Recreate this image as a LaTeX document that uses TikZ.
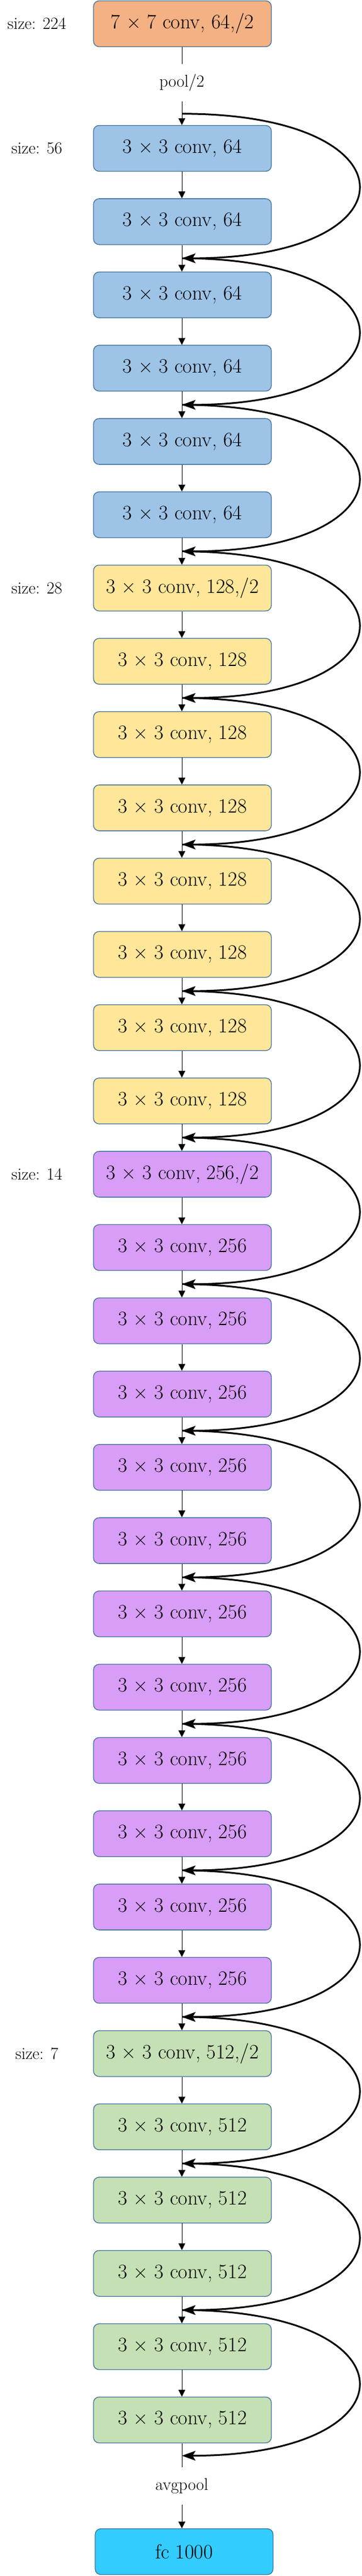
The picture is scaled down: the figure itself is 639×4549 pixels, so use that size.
\documentclass[tikz,border=0pt]{standalone}
\usetikzlibrary{arrows.meta,calc}
\definecolor{cOrange}{HTML}{F4B183}
\definecolor{cBlue}{HTML}{9DC3E6}
\definecolor{cYellow}{HTML}{FFE699}
\definecolor{cPurple}{HTML}{D89DF7}
\definecolor{cGreen}{HTML}{C5E0B4}
\definecolor{cCyan}{HTML}{33CCFF}
\definecolor{cBorder}{HTML}{41719C}
\begin{document}
\begin{tikzpicture}[x=1pt,y=-1pt,
  convbox/.style={draw=cBorder, line width=1.3pt, rounded corners=10pt,
    minimum width=314pt, minimum height=81pt, inner sep=0pt,
    font=\fontsize{36}{42}\selectfont},
  lbl/.style={font=\fontsize{30}{35}\selectfont, inner sep=0pt},
  gapnode/.style={font=\fontsize{30}{35}\selectfont, inner sep=0pt, minimum height=66pt},
  flow/.style={line width=0.8pt, -{Triangle[length=12pt,width=12pt]}},
  plain/.style={line width=0.8pt},
  skip/.style={line width=3pt, -{Stealth[length=24pt,width=17pt,inset=5pt]}}]
\useasboundingbox (0,0) rectangle (639,4549);

% first conv
\node[convbox, fill=cOrange] (conv1) at (322,42) {7 × 7 conv, 64,/2};
\node[lbl] (s224) at (65,42) {size: 224};
\node[gapnode] (pool) at (321,146) {pool/2};

% residual conv boxes
\foreach \k/\col/\txt in {
  0/cBlue/64, 1/cBlue/64, 2/cBlue/64, 3/cBlue/64, 4/cBlue/64, 5/cBlue/64,
  6/cYellow/{128,/2}, 7/cYellow/128, 8/cYellow/128, 9/cYellow/128,
  10/cYellow/128, 11/cYellow/128, 12/cYellow/128, 13/cYellow/128,
  14/cPurple/{256,/2}, 15/cPurple/256, 16/cPurple/256, 17/cPurple/256,
  18/cPurple/256, 19/cPurple/256, 20/cPurple/256, 21/cPurple/256,
  22/cPurple/256, 23/cPurple/256, 24/cPurple/256, 25/cPurple/256,
  26/cGreen/{512,/2}, 27/cGreen/512, 28/cGreen/512, 29/cGreen/512,
  30/cGreen/512, 31/cGreen/512} {
  \node[convbox, fill=\col] (b\k) at (322,{262+129.4*\k}) {3 × 3 conv, \txt};
}

\node[lbl] (s56) at (65,262) {size: 56};
\node[lbl] (s28) at (65,{262+129.4*6}) {size: 28};
\node[lbl] (s14) at (65,{262+129.4*14}) {size: 14};
\node[lbl] (s7)  at (65,{262+129.4*26}) {size: 7};

\node[gapnode] (avg) at (321,4390) {avgpool};
\node[convbox, fill=cCyan] (fc) at (325,4506) {fc 1000};

% main flow
\draw[plain] (conv1.south -| pool) -- (pool.north);
\draw[flow] (pool.south) -- (pool.south |- b0.north);
\foreach \k [evaluate=\k as \n using int(\k+1)] in {0,...,30} {
  \draw[flow] (b\k.south -| pool) -- (b\n.north -| pool);
}
\draw[plain] (b31.south -| pool) -- (avg.north);
\draw[flow] (avg.south) -- (avg.south |- fc.north);

% junctions
\coordinate (j0) at ($(b0.north -| pool)+(0,-20)$);
\foreach \n [evaluate=\n as \a using int(2*\n-1), evaluate=\n as \b using int(2*\n)] in {1,...,15} {
  \coordinate (j\n) at ($(b\a.south -| pool)!0.5!(b\b.north -| pool)$);
}
\coordinate (j16) at ($(b31.south -| pool)+(0,22)$);

% shortcuts
\foreach \n [evaluate=\n as \m using int(\n+1)] in {0,...,15} {
  \draw[skip] (j\n) .. controls ($(j\n)+(416,0)$) and ($(j\m)+(416,0)$) .. (j\m);
}
\end{tikzpicture}
\end{document}
